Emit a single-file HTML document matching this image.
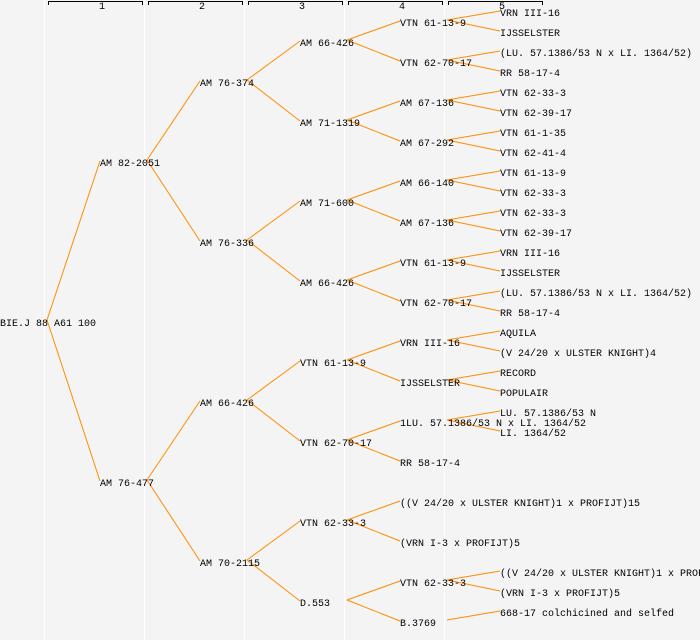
<!DOCTYPE html>
<html><head><meta charset="utf-8"><style>
html,body{margin:0;padding:0;background:#f4f4f4;}
svg{display:block}
text{font-family:"Liberation Mono","DejaVu Sans Mono",monospace;font-size:10px;fill:#000}
</style></head><body>
<svg width="700" height="640" xmlns="http://www.w3.org/2000/svg">
<rect width="700" height="640" fill="#f4f4f4"/>
<g stroke="#ffffff" stroke-width="1">
<line x1="44.5" y1="0" x2="44.5" y2="640"/><line x1="144.5" y1="0" x2="144.5" y2="640"/><line x1="244.5" y1="0" x2="244.5" y2="640"/><line x1="344.5" y1="0" x2="344.5" y2="640"/><line x1="444.5" y1="0" x2="444.5" y2="640"/>
</g>
<g stroke="#000" fill="none" stroke-width="1">
<path d="M48.5 5V1.5H142.5V5"/><path d="M148.5 5V1.5H242.5V5"/><path d="M248.5 5V1.5H342.5V5"/><path d="M348.5 5V1.5H442.5V5"/><path d="M448.5 5V1.5H542.5V5"/>
</g>
<g style="font-size:8px"><text x="99" y="9">1</text><text x="199" y="9">2</text><text x="299" y="9">3</text><text x="399" y="9">4</text><text x="499" y="9">5</text></g>
<g stroke="#ff8c00" stroke-width="1" fill="none">
<line x1="47" y1="320" x2="100" y2="161"/><line x1="47" y1="320" x2="100" y2="481"/>
<line x1="147" y1="160" x2="200" y2="81"/><line x1="147" y1="160" x2="200" y2="241"/>
<line x1="147" y1="480" x2="200" y2="401"/><line x1="147" y1="480" x2="200" y2="561"/>
<line x1="247" y1="80" x2="300" y2="41"/><line x1="247" y1="80" x2="300" y2="121"/>
<line x1="247" y1="240" x2="300" y2="201"/><line x1="247" y1="240" x2="300" y2="281"/>
<line x1="247" y1="400" x2="300" y2="361"/><line x1="247" y1="400" x2="300" y2="441"/>
<line x1="247" y1="560" x2="300" y2="521"/><line x1="247" y1="560" x2="300" y2="601"/>
<line x1="347" y1="40" x2="400" y2="21"/><line x1="347" y1="40" x2="400" y2="61"/>
<line x1="347" y1="120" x2="400" y2="101"/><line x1="347" y1="120" x2="400" y2="141"/>
<line x1="347" y1="200" x2="400" y2="181"/><line x1="347" y1="200" x2="400" y2="221"/>
<line x1="347" y1="280" x2="400" y2="261"/><line x1="347" y1="280" x2="400" y2="301"/>
<line x1="347" y1="360" x2="400" y2="341"/><line x1="347" y1="360" x2="400" y2="381"/>
<line x1="347" y1="440" x2="400" y2="421"/><line x1="347" y1="440" x2="400" y2="461"/>
<line x1="347" y1="520" x2="400" y2="501"/><line x1="347" y1="520" x2="400" y2="541"/>
<line x1="347" y1="600" x2="400" y2="581"/><line x1="347" y1="600" x2="400" y2="621"/>
<line x1="447" y1="20" x2="500" y2="11"/><line x1="447" y1="20" x2="500" y2="31"/>
<line x1="447" y1="60" x2="500" y2="51"/><line x1="447" y1="60" x2="500" y2="71"/>
<line x1="447" y1="100" x2="500" y2="91"/><line x1="447" y1="100" x2="500" y2="111"/>
<line x1="447" y1="140" x2="500" y2="131"/><line x1="447" y1="140" x2="500" y2="151"/>
<line x1="447" y1="180" x2="500" y2="171"/><line x1="447" y1="180" x2="500" y2="191"/>
<line x1="447" y1="220" x2="500" y2="211"/><line x1="447" y1="220" x2="500" y2="231"/>
<line x1="447" y1="260" x2="500" y2="251"/><line x1="447" y1="260" x2="500" y2="271"/>
<line x1="447" y1="300" x2="500" y2="291"/><line x1="447" y1="300" x2="500" y2="311"/>
<line x1="447" y1="340" x2="500" y2="331"/><line x1="447" y1="340" x2="500" y2="351"/>
<line x1="447" y1="380" x2="500" y2="371"/><line x1="447" y1="380" x2="500" y2="391"/>
<line x1="447" y1="420" x2="500" y2="411"/><line x1="447" y1="420" x2="500" y2="431"/>
<line x1="447" y1="580" x2="500" y2="571"/><line x1="447" y1="580" x2="500" y2="591"/>
<line x1="447" y1="620" x2="500" y2="611"/>
</g>
<g>
<text x="0" y="326">BIE.J 88 A61 100</text>
<text x="100" y="166">AM 82-2051</text><text x="100" y="486">AM 76-477</text>
<text x="200" y="86">AM 76-374</text><text x="200" y="246">AM 76-336</text><text x="200" y="406">AM 66-426</text><text x="200" y="566">AM 70-2115</text>
<text x="300" y="46">AM 66-426</text><text x="300" y="126">AM 71-1319</text><text x="300" y="206">AM 71-600</text><text x="300" y="286">AM 66-426</text>
<text x="300" y="366">VTN 61-13-9</text><text x="300" y="446">VTN 62-70-17</text><text x="300" y="526">VTN 62-33-3</text><text x="300" y="606">D.553</text>
<text x="400" y="26">VTN 61-13-9</text><text x="400" y="66">VTN 62-70-17</text><text x="400" y="106">AM 67-136</text><text x="400" y="146">AM 67-292</text>
<text x="400" y="186">AM 66-140</text><text x="400" y="226">AM 67-136</text><text x="400" y="266">VTN 61-13-9</text><text x="400" y="306">VTN 62-70-17</text>
<text x="400" y="346">VRN III-16</text><text x="400" y="386">IJSSELSTER</text><text x="400" y="426">1LU. 57.1386/53 N x LI. 1364/52</text><text x="400" y="466">RR 58-17-4</text>
<text x="400" y="506">((V 24/20 x ULSTER KNIGHT)1 x PROFIJT)15</text><text x="400" y="546">(VRN I-3 x PROFIJT)5</text><text x="400" y="586">VTN 62-33-3</text><text x="400" y="626">B.3769</text>
<text x="500" y="16">VRN III-16</text><text x="500" y="36">IJSSELSTER</text><text x="500" y="56">(LU. 57.1386/53 N x LI. 1364/52)</text><text x="500" y="76">RR 58-17-4</text>
<text x="500" y="96">VTN 62-33-3</text><text x="500" y="116">VTN 62-39-17</text><text x="500" y="136">VTN 61-1-35</text><text x="500" y="156">VTN 62-41-4</text>
<text x="500" y="176">VTN 61-13-9</text><text x="500" y="196">VTN 62-33-3</text><text x="500" y="216">VTN 62-33-3</text><text x="500" y="236">VTN 62-39-17</text>
<text x="500" y="256">VRN III-16</text><text x="500" y="276">IJSSELSTER</text><text x="500" y="296">(LU. 57.1386/53 N x LI. 1364/52)</text><text x="500" y="316">RR 58-17-4</text>
<text x="500" y="336">AQUILA</text><text x="500" y="356">(V 24/20 x ULSTER KNIGHT)4</text><text x="500" y="376">RECORD</text><text x="500" y="396">POPULAIR</text>
<text x="500" y="416">LU. 57.1386/53 N</text><text x="500" y="436">LI. 1364/52</text>
<text x="500" y="576">((V 24/20 x ULSTER KNIGHT)1 x PROFIJT)15</text><text x="500" y="596">(VRN I-3 x PROFIJT)5</text><text x="500" y="616">668-17 colchicined and selfed</text>
</g>
</svg>
</body></html>
